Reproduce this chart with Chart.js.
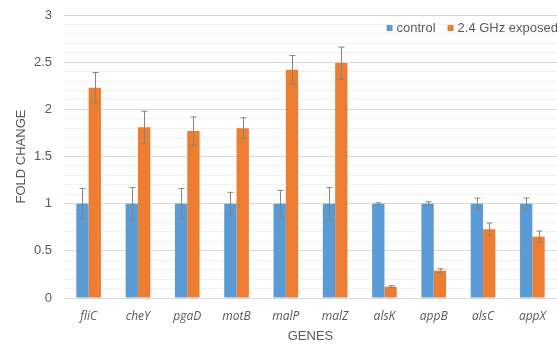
<!DOCTYPE html>
<html>
<head>
<meta charset="utf-8">
<script src="https://cdn.jsdelivr.net/npm/chart.js@4"></script>
<style>
  html, body { margin: 0; padding: 0; background: #fff; }
  #wrap { width: 557px; height: 344px; position: relative; }
</style>
</head>
<body>
<div id="wrap"><canvas id="chart"></canvas></div>
<script>
// Values
const genes = ['fliC', 'cheY', 'pgaD', 'motB', 'malP', 'malZ', 'alsK', 'appB', 'alsC', 'appX'];
const controlValues = [1, 1, 1, 1, 1, 1, 1, 1, 1, 1];
const controlErrors = [0.16, 0.17, 0.16, 0.12, 0.14, 0.17, 0.01, 0.02, 0.06, 0.06];
const exposedValues = [2.23, 1.81, 1.77, 1.80, 2.42, 2.49, 0.12, 0.29, 0.73, 0.65];
const exposedErrors = [0.16, 0.17, 0.15, 0.11, 0.15, 0.17, 0.01, 0.02, 0.065, 0.06];
const yTicksMajor = [0, 0.5, 1, 1.5, 2, 2.5, 3];

const TEXT = '#595959';
const FONT = '"Liberation Sans", Arial, sans-serif';
Chart.defaults.font.family = FONT;
Chart.defaults.font.size = 13;
Chart.defaults.color = TEXT;

function isMajor(v) {
    return yTicksMajor.some(t => Math.abs(t - v) < 1e-6);
}

// Draw error bars from each dataset's errors array
const errorBars = {
    id: 'errorBars',
    afterDatasetsDraw(chart) {
        const ctx = chart.ctx;
        const y = chart.scales.y;
        ctx.save();
        ctx.strokeStyle = '#858585';
        ctx.lineWidth = 1;
        chart.data.datasets.forEach((ds, i) => {
            const meta = chart.getDatasetMeta(i);
            meta.data.forEach((bar, j) => {
                const v = ds.data[j];
                const e = ds.errors[j];
                const x = Math.round(bar.x) + 0.5;
                const top = y.getPixelForValue(v + e);
                const bot = y.getPixelForValue(v - e);
                ctx.beginPath();
                ctx.moveTo(x, top);
                ctx.lineTo(x, bot);
                ctx.moveTo(x - 3, top);
                ctx.lineTo(x + 3, top);
                ctx.moveTo(x - 3, bot);
                ctx.lineTo(x + 3, bot);
                ctx.stroke();
            });
        });
        ctx.restore();
    }
};

// Legend drawn inside the plot area, top right, like the Excel original
const insideLegend = {
    id: 'insideLegend',
    afterDraw(chart) {
        const ctx = chart.ctx;
        const area = chart.chartArea;
        ctx.save();
        ctx.font = '13px ' + FONT;
        ctx.textBaseline = 'middle';
        const items = chart.data.datasets.map(ds => ({
            text: ds.label, color: ds.backgroundColor, w: ctx.measureText(ds.label).width
        }));
        const box = 6, gap = 4, itemGap = 12;
        const total = items.reduce((s, it) => s + box + gap + it.w, 0) + itemGap * (items.length - 1);
        let x = area.right - total + 1;
        const cy = area.top + 13;
        items.forEach(it => {
            ctx.fillStyle = it.color;
            ctx.fillRect(x, cy - box / 2, box, box);
            x += box + gap;
            ctx.fillStyle = TEXT;
            ctx.fillText(it.text, x, cy);
            x += it.w + itemGap;
        });
        ctx.restore();
    }
};

new Chart(document.getElementById('chart'), {
    type: 'bar',
    data: {
        labels: genes,
        datasets: [{
            label: 'control',
            data: controlValues,
            errors: controlErrors,
            backgroundColor: '#5B9BD5',
            categoryPercentage: 0.5,
            barPercentage: 1.0
        }, {
            label: '2.4 GHz exposed',
            data: exposedValues,
            errors: exposedErrors,
            backgroundColor: '#ED7D31',
            categoryPercentage: 0.5,
            barPercentage: 1.0
        }]
    },
    options: {
        responsive: true,
        maintainAspectRatio: false,
        animation: false,
        layout: { padding: { top: 0, left: 14, right: 0, bottom: 0 } },
        plugins: {
            legend: { display: false },
            tooltip: { enabled: false }
        },
        scales: {
            x: {
                grid: { display: false },
                border: { display: true, color: '#d9d9d9' },
                ticks: {
                    color: TEXT,
                    padding: 3,
                    font: { family: '"Open Sans", sans-serif', style: 'italic', size: 12 }
                },
                title: {
                    display: true,
                    text: 'GENES',
                    color: TEXT,
                    font: { size: 13 },
                    padding: { top: 2, bottom: 0 }
                }
            },
            y: {
                min: 0,
                max: 3,
                border: { display: false },
                afterFit: scale => {
                    scale.width = 50;
                    scale.paddingTop = 15;
                },
                grid: {
                    drawTicks: false,
                    color: ctx => isMajor(ctx.tick.value) ? '#d9d9d9' : '#f1f1f1'
                },
                ticks: {
                    stepSize: 0.1,
                    autoSkip: false,
                    padding: 12,
                    color: TEXT,
                    font: { size: 13 },
                    callback: v => isMajor(v) ? String(Math.round(v * 10) / 10) : ''
                },
                title: {
                    display: true,
                    text: 'FOLD CHANGE',
                    color: TEXT,
                    font: { size: 13 },
                    padding: { top: 0, bottom: 0 }
                }
            }
        }
    },
    plugins: [errorBars, insideLegend]
});
</script>
</body>
</html>
